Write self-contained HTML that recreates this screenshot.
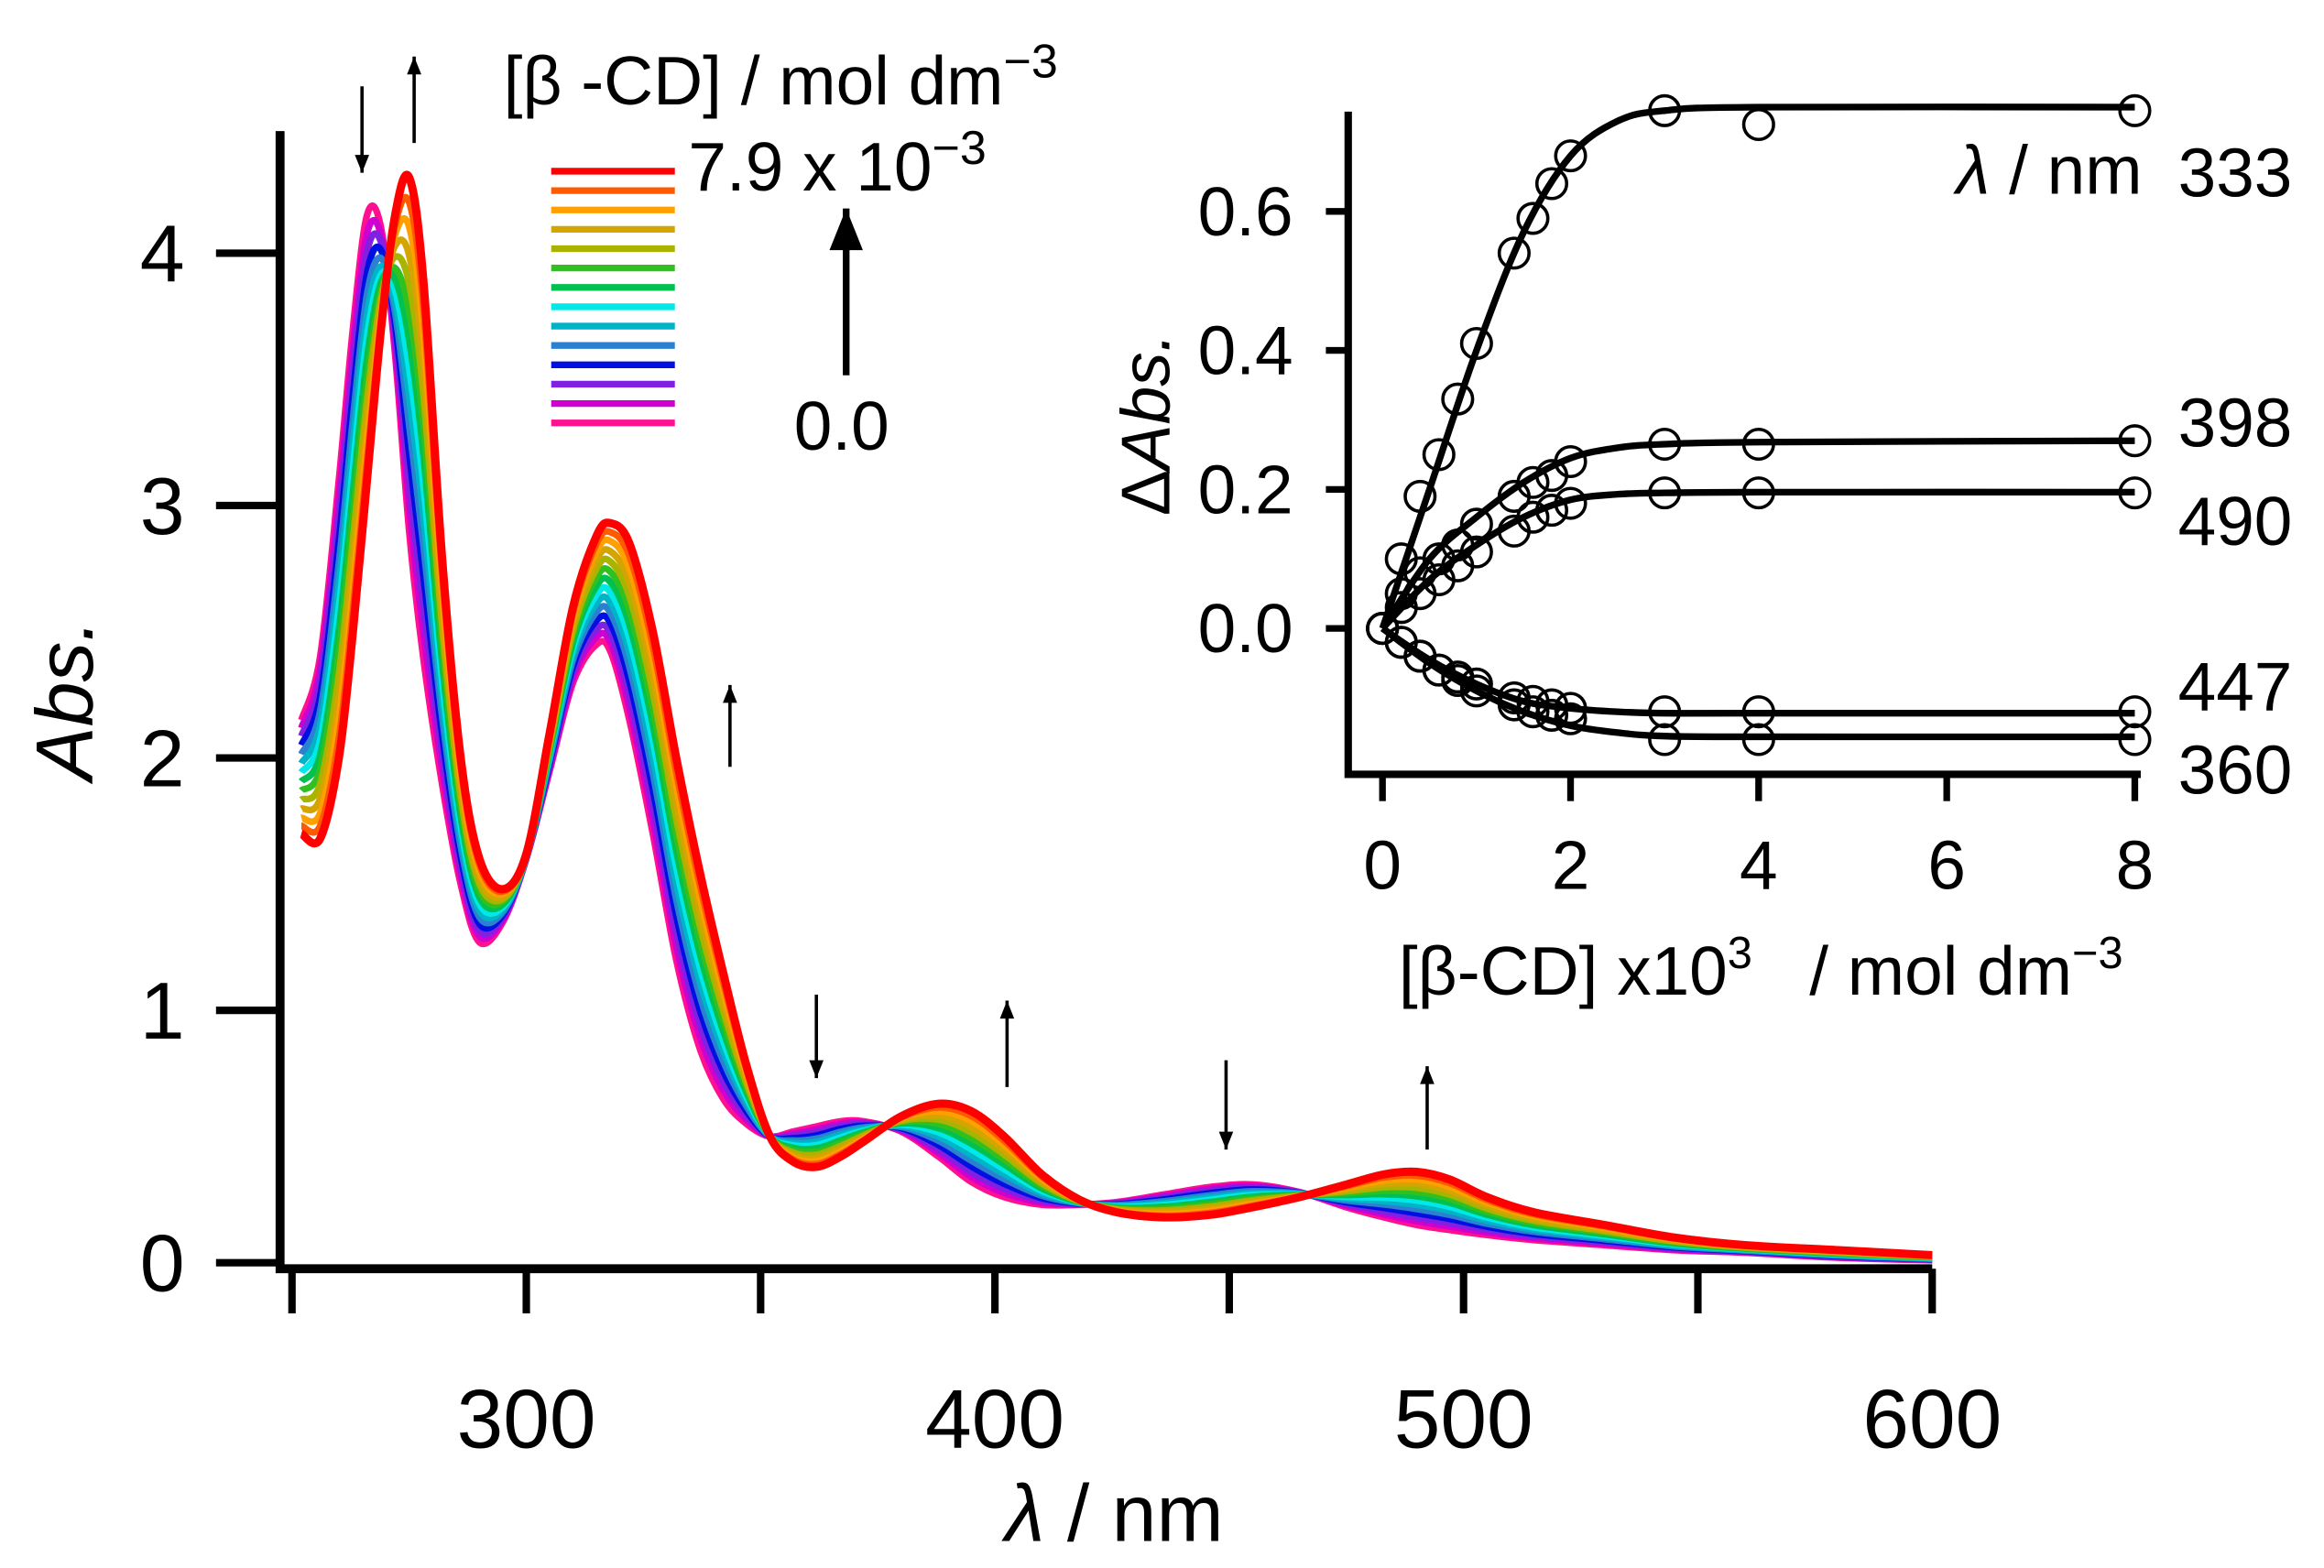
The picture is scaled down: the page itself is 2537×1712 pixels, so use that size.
<!DOCTYPE html>
<html><head><meta charset="utf-8"><style>
html,body{margin:0;padding:0;background:#fff}
svg{display:block}
text{font-family:"Liberation Sans",sans-serif;fill:#000}
</style></head><body>
<svg id="chart" width="2537" height="1712" viewBox="0 0 1560 1053" preserveAspectRatio="none" xmlns="http://www.w3.org/2000/svg">
<g id="main"></g>
<g id="inset"></g>
</svg>
<script>
const wavelengths=[252,256,260,263,266,269,272,275,278,282,286,290,295,300,305,310,315,318,322,327,332,337,342,347,352,357,362,367,372,380,388,395,402,410,418,426,436,446,455,465,475,483,490,497,505,515,530,545,560,580,600];
const absMax=[1.7,1.68,2.0,2.5,3.1,3.7,4.15,4.3,3.9,2.8,2.0,1.6,1.48,1.62,2.1,2.6,2.88,2.93,2.85,2.5,2.0,1.55,1.15,0.78,0.5,0.4,0.38,0.42,0.48,0.58,0.63,0.6,0.5,0.35,0.25,0.2,0.18,0.19,0.22,0.26,0.31,0.35,0.36,0.33,0.26,0.2,0.15,0.1,0.07,0.05,0.03];
const absZero=[2.15,2.4,3.1,3.7,4.15,4.1,3.6,2.9,2.4,1.9,1.5,1.27,1.35,1.6,1.95,2.3,2.45,2.42,2.15,1.7,1.2,0.85,0.65,0.55,0.5,0.52,0.54,0.56,0.56,0.52,0.42,0.32,0.26,0.23,0.23,0.24,0.27,0.3,0.31,0.28,0.22,0.18,0.15,0.13,0.11,0.09,0.07,0.05,0.04,0.02,0.01];
const complexFraction=[1,0.93,0.86,0.78,0.7,0.62,0.54,0.46,0.38,0.3,0.22,0.14,0.07,0];
const seriesColors=["#ff0000","#ff5a00","#ffa000","#d4a400","#a8b400","#30c020","#00c050","#00e8e8","#00b4c8","#2c80d0","#0010e0","#8020e0","#d000d0","#ff1090"];
const xTicksMain=[250,300,350,400,450,500,550,600];
const xLabelsMain=[300,400,500,600];
const yTicksMain=[0,1,2,3,4];
const concX=[0,0.2,0.4,0.6,0.8,1.0,1.4,1.6,1.8,2.0,3,4,8];
const pts333=[0,0.1,0.19,0.25,0.33,0.41,0.54,0.59,0.64,0.68,0.745,0.725,0.745];
const pts398=[0,0.05,0.08,0.1,0.12,0.15,0.19,0.21,0.22,0.24,0.265,0.265,0.27];
const pts490=[0,0.03,0.05,0.07,0.09,0.11,0.14,0.16,0.17,0.18,0.195,0.195,0.195];
const pts447=[0,-0.02,-0.04,-0.06,-0.07,-0.08,-0.1,-0.105,-0.11,-0.115,-0.12,-0.12,-0.12];
const pts360=[0,-0.02,-0.04,-0.06,-0.075,-0.09,-0.11,-0.12,-0.125,-0.13,-0.16,-0.16,-0.16];
const fitX=[0,0.5,1,1.5,2,2.5,3,4,8];
const fit333=[0,0.2,0.4,0.57,0.68,0.73,0.745,0.75,0.75];
const fit398=[0,0.1,0.16,0.21,0.245,0.26,0.265,0.268,0.27];
const fit490=[0,0.07,0.12,0.16,0.185,0.193,0.195,0.196,0.196];
const fit447=[0,-0.045,-0.08,-0.105,-0.115,-0.12,-0.122,-0.122,-0.122];
const fit360=[0,-0.05,-0.09,-0.12,-0.14,-0.15,-0.155,-0.156,-0.156];
const xTicksInset=[0,2,4,6,8];
const yTicksInset=[0,0.2,0.4,0.6];

const NS="http://www.w3.org/2000/svg";
function mk(parent,tag,attrs,txt){const e=document.createElementNS(NS,tag);for(const k in attrs)e.setAttribute(k,attrs[k]);if(txt!==undefined)e.textContent=txt;parent.appendChild(e);return e;}
function smooth(p){let d="M"+p[0][0]+","+p[0][1];for(let i=0;i<p.length-1;i++){const a=p[i-1]||p[i],b=p[i],c=p[i+1],e=p[i+2]||c;d+=" C"+(b[0]+(c[0]-a[0])/6)+","+(b[1]+(c[1]-a[1])/6)+" "+(c[0]-(e[0]-b[0])/6)+","+(c[1]-(e[1]-b[1])/6)+" "+c[0]+","+c[1];}return d;}

const main=document.getElementById('main');
const X=w=>196+(w-250)*(1297-196)/350;
const Y=a=>848-a*169.5;
for(let i=complexFraction.length-1;i>=0;i--){
  const f=complexFraction[i];
  const p=wavelengths.map((w,j)=>[X(w),Y(f*absMax[j]+(1-f)*absZero[j])]);
  const el=mk(main,'path',{d:smooth(p),fill:'none',stroke:seriesColors[i],'stroke-width':i==0?5.5:4.5,'stroke-linejoin':'round'});
  
  
}
let ax=mk(main,'path',{d:"M188,88 V852 H1297",fill:'none',stroke:'#000','stroke-width':6});

xTicksMain.forEach(t=>{const e=mk(main,'line',{x1:X(t),x2:X(t),y1:852,y2:882,stroke:'#000','stroke-width':5});});
xLabelsMain.forEach(t=>{const e=mk(main,'text',{x:X(t),y:972,'font-size':56,'text-anchor':'middle'},t);});
yTicksMain.forEach(t=>{const e=mk(main,'line',{x1:145,x2:188,y1:Y(t),y2:Y(t),stroke:'#000','stroke-width':5});
 const l=mk(main,'text',{x:124,y:Y(t)+19,'font-size':54,'text-anchor':'end'},t);});
let xt=mk(main,'text',{x:748,y:1035,'font-size':54,'text-anchor':'middle'});

xt.innerHTML='<tspan font-style="italic">λ</tspan> / nm';
let yt=mk(main,'text',{x:0,y:0,'font-size':54,'text-anchor':'middle','font-style':'italic',transform:'translate(62,470) rotate(-90)'},'Abs.');

let lt=mk(main,'text',{x:338,y:70,'font-size':46},'');

lt.innerHTML='[β -CD] / mol dm<tspan dy="-18" font-size="32">−3</tspan>';
seriesColors.forEach((c,i)=>{const e=mk(main,'line',{x1:370,x2:453,y1:115+i*13,y2:115+i*13,stroke:c,'stroke-width':4.5});});
let lh=mk(main,'text',{x:462,y:128,'font-size':46});
lh.innerHTML='7.9 x 10<tspan dy="-18" font-size="32">−3</tspan>';
let l0=mk(main,'text',{x:533,y:302,'font-size':46},'0.0');
function arrow(x,y1,y2,w,h,name){const g=mk(main,'g',{});
 mk(g,'line',{x1:x,x2:x,y1:y1,y2:y2,stroke:'#000','stroke-width':w});const dir=y2>y1?1:-1;
 mk(g,'path',{d:`M${x-h/2.5},${y2-dir*h} L${x},${y2} L${x+h/2.5},${y2-dir*h} Z`,fill:'#000'});}
arrow(568,252,140,4.5,28,'legend-arrow');
arrow(243,58,116,2.2,12,'arrow-down-265');arrow(278,96,38,2.2,12,'arrow-up-275');
arrow(490,515,460,2.2,12,'arrow-up-345');arrow(548,668,724,2.2,12,'arrow-down-362');
arrow(676,730,672,2.2,12,'arrow-up-403');arrow(823,712,772,2.2,12,'arrow-down-450');arrow(958,772,716,2.2,12,'arrow-up-492');

const ins=document.getElementById('inset');
const IX=c=>928+c*(1433-928)/8;
const IY=v=>422-v*466.7;
let iax=mk(ins,'path',{d:"M905,75 V520 H1437",fill:'none',stroke:'#000','stroke-width':5});

xTicksInset.forEach(t=>{const e=mk(ins,'line',{x1:IX(t),x2:IX(t),y1:520,y2:538,stroke:'#000','stroke-width':4.5});
 const l=mk(ins,'text',{x:IX(t),y:597,'font-size':46,'text-anchor':'middle'},t);});
yTicksInset.forEach(t=>{const e=mk(ins,'line',{x1:890,x2:905,y1:IY(t),y2:IY(t),stroke:'#000','stroke-width':4.5});
 const l=mk(ins,'text',{x:868,y:IY(t)+16,'font-size':46,'text-anchor':'end'},t.toFixed(1));});
let ixt=mk(ins,'text',{x:1182,y:668,'font-size':46,'text-anchor':'middle'});
ixt.innerHTML='[β-CD] x10<tspan dy="-18" font-size="30">3</tspan><tspan dy="18" xml:space="preserve">   / mol dm</tspan><tspan dy="-18" font-size="30">−3</tspan>';
let iyt=mk(ins,'text',{x:0,y:0,'font-size':46,'text-anchor':'middle',transform:'translate(785,285) rotate(-90)'});
iyt.innerHTML='Δ<tspan font-style="italic">Abs.</tspan>';
let iln=mk(ins,'text',{x:1438,y:130,'font-size':46,'text-anchor':'end'});
iln.innerHTML='<tspan font-style="italic">λ</tspan> / nm';
const series=[[pts333,fit333,'333',132],[pts398,fit398,'398',300],[pts490,fit490,'490',366],[pts447,fit447,'447',477],[pts360,fit360,'360',533]];
series.forEach(s=>{
 const f=mk(ins,'path',{d:smooth(fitX.map((c,i)=>[IX(c),IY(s[1][i])])),fill:'none',stroke:'#000','stroke-width':4.5});
 
 s[0].forEach((v,i)=>{const c=mk(ins,'circle',{cx:IX(concX[i]),cy:IY(v),r:10,fill:'none',stroke:'#000','stroke-width':2.2});});
 const l=mk(ins,'text',{x:1462,y:s[3],'font-size':46},s[2]);
});
</script>
</body></html>
